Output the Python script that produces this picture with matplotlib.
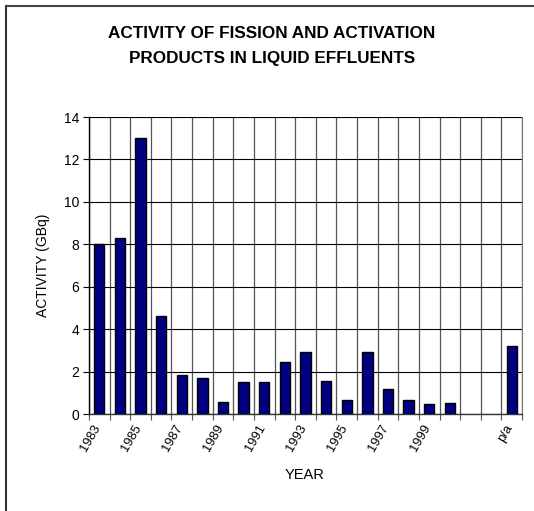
import numpy as np
import matplotlib.pyplot as plt
from matplotlib.lines import Line2D
from matplotlib.transforms import ScaledTranslation

plt.rcParams['font.family'] = ['Liberation Sans', 'DejaVu Sans']

# data
categories = [str(y) for y in range(1983, 2001)] + ['', '', 'p/a']
activity = [8.0, 8.3, 13.0, 4.6, 1.85, 1.7, 0.58, 1.5, 1.5, 2.47,
            2.92, 1.57, 0.65, 2.92, 1.2, 0.65, 0.45, 0.5,
            np.nan, np.nan, 3.22]
yticks = [0, 2, 4, 6, 8, 10, 12, 14]

fig = plt.figure(figsize=(5.34, 5.11), dpi=100)
ax = fig.add_axes([89 / 534, 1 - 414 / 511, (522 - 89) / 534, (414 - 117) / 511])

x = np.arange(len(categories))
ax.bar(x, activity, width=0.5, color='#000080', edgecolor='black', linewidth=1.0, zorder=3)

ax.set_xlim(-0.5, len(categories) - 0.5)
ax.set_ylim(0, 14)
ax.set_yticks(yticks)
ax.tick_params(axis='y', direction='out', length=4, labelsize=10, pad=3, width=0.8)

# labels on every other category, ticks and grid on category edges
ax.set_xticks(x[::2])
ax.set_xticklabels(categories[::2], rotation=60, ha='right', rotation_mode='anchor', fontsize=9.3)
ax.tick_params(axis='x', which='major', length=0, pad=6)
ax.set_xticks(np.arange(-0.5, len(categories), 1), minor=True)
ax.tick_params(axis='x', which='minor', length=4, direction='out', width=0.8, color='#555555')
shift = ScaledTranslation(-7 / 100, 0, fig.dpi_scale_trans)
for lab in ax.get_xticklabels():
    lab.set_transform(lab.get_transform() + shift)

ax.grid(axis='y', color='black', linewidth=0.8, zorder=0)
ax.grid(axis='x', which='minor', color='#555555', linewidth=0.9, zorder=0)
ax.grid(axis='x', which='major', visible=False)

ax.spines['top'].set_visible(False)
ax.spines['right'].set_color('#777777')
ax.spines['left'].set_linewidth(1.0)
ax.spines['bottom'].set_linewidth(1.0)
ax.spines['bottom'].set_color('#333333')

ax.set_ylabel('ACTIVITY (GBq)', fontsize=10, labelpad=10)
fig.text(305 / 534, 1 - 475 / 511, 'YEAR', fontsize=10.5, ha='center', va='center')

fig.text(272 / 534, 1 - 33 / 511, 'ACTIVITY OF FISSION AND ACTIVATION',
         fontsize=12.3, fontweight='bold', ha='center', va='center')
fig.text(272 / 534, 1 - 58 / 511, 'PRODUCTS IN LIQUID EFFLUENTS',
         fontsize=12.3, fontweight='bold', ha='center', va='center')

# chart frame (only left and top edges fall inside the picture)
fig.add_artist(Line2D([6 / 534, 6 / 534], [0, 1 - 6 / 511], color='#333333', linewidth=1.5))
fig.add_artist(Line2D([6 / 534, 1], [1 - 6 / 511, 1 - 6 / 511], color='#444444', linewidth=1.5))

fig.savefig('out.png', dpi=100)
